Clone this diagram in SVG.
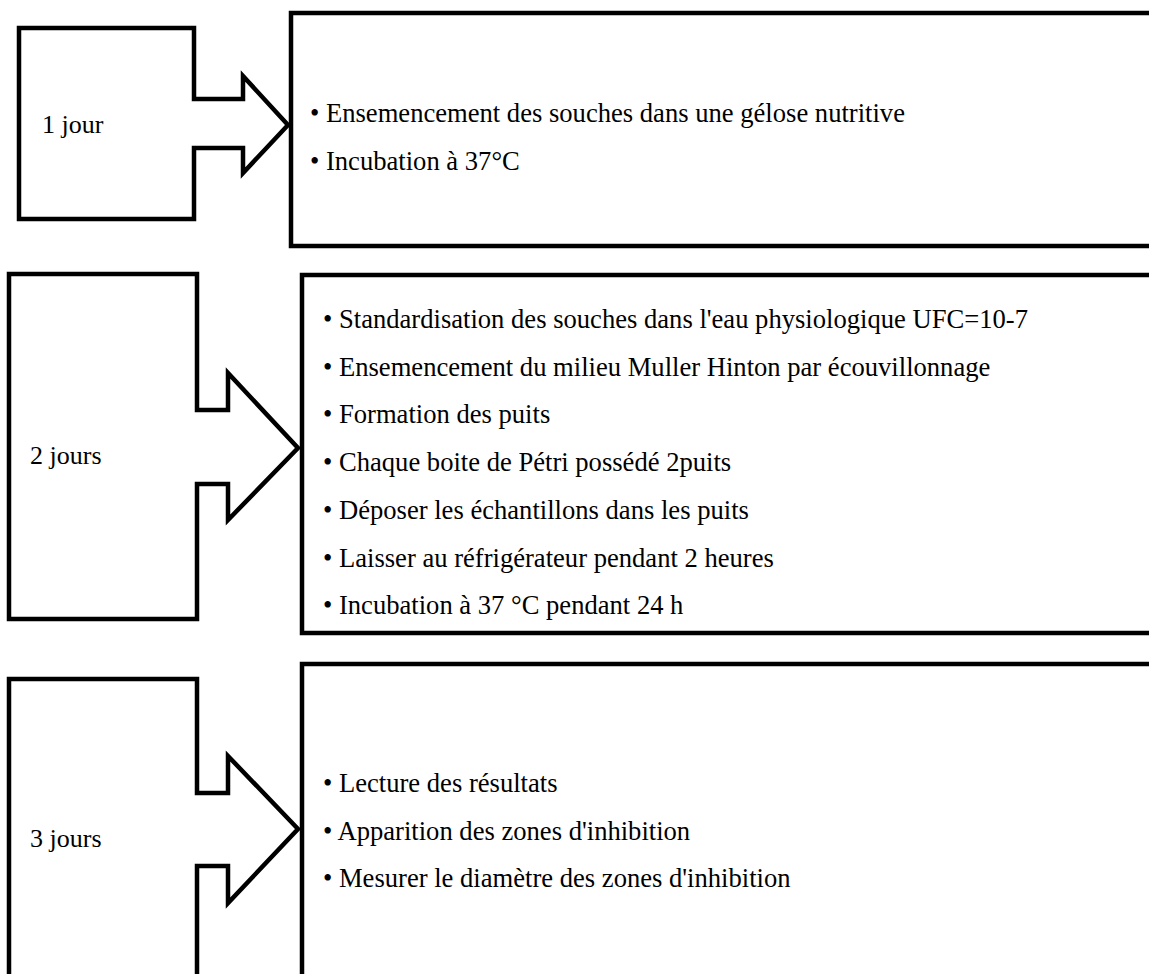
<svg xmlns="http://www.w3.org/2000/svg" width="1149" height="974" viewBox="0 0 1149 974">
<style>
.sh{fill:#fff;stroke:#000;stroke-width:4.5;stroke-linejoin:miter}
.t{font-family:"Liberation Serif","Times New Roman",serif;font-size:26.6px;fill:#000}
.l{font-family:"Liberation Serif","Times New Roman",serif;font-size:26px;fill:#000}
</style>
<rect width="1149" height="974" fill="#fff"/>
<g id="connectors"></g>
<g id="day1">
<path class="sh" d="M19,28 H194 V99 H243 V76 L288,125 L243,173 V148 H194 V219 H19 Z"/>
<text class="l" x="42" y="133">1 jour</text>
</g>
<g id="steps1">
<rect class="sh" x="291" y="13" width="900" height="233"/>
<text class="t" x="310" y="122">• Ensemencement des souches dans une gélose nutritive</text>
<text class="t" x="310" y="170">• Incubation à 37°C</text>
</g>
<g id="day2">
<path class="sh" d="M9,274 H197 V410 H228 V373 L298,448 L228,520 V484 H197 V619 H9 Z"/>
<text class="l" x="30" y="464">2 jours</text>
</g>
<g id="steps2">
<rect class="sh" x="302" y="275" width="900" height="358"/>
<text class="t" x="323" y="328">• Standardisation des souches dans l'eau physiologique UFC=10-7</text>
<text class="t" x="323" y="376">• Ensemencement du milieu Muller Hinton par écouvillonnage</text>
<text class="t" x="323" y="423">• Formation des puits</text>
<text class="t" x="323" y="471">• Chaque boite de Pétri possédé 2puits</text>
<text class="t" x="323" y="519">• Déposer les échantillons dans les puits</text>
<text class="t" x="323" y="567">• Laisser au réfrigérateur pendant 2 heures</text>
<text class="t" x="323" y="614">• Incubation à 37 °C pendant 24 h</text>
</g>
<g id="day3">
<path class="sh" d="M9,990 V679 H197 V793 H228 V756 L298,829 L228,903 V866 H197 V990"/>
<text class="l" x="30" y="847">3 jours</text>
</g>
<g id="steps3">
<rect class="sh" x="302" y="664" width="900" height="400"/>
<text class="t" x="323" y="792">• Lecture des résultats</text>
<text class="t" x="323" y="840">• Apparition des zones d'inhibition</text>
<text class="t" x="323" y="887">• Mesurer le diamètre des zones d'inhibition</text>
</g>
</svg>
